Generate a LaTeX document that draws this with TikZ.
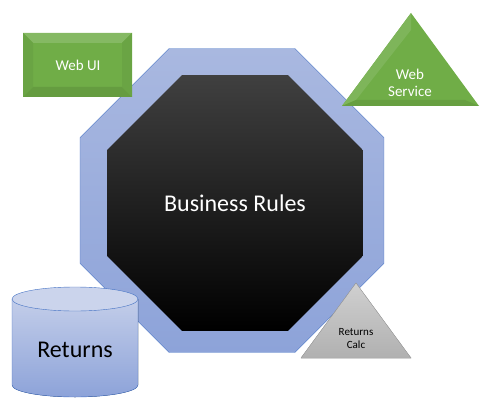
\documentclass[tikz,border=0pt]{standalone}
\usepackage{fontspec}
\setmainfont{Carlito}
\usetikzlibrary{shapes.geometric}
\definecolor{ringblue}{HTML}{4472C4}
\definecolor{ringfillA}{HTML}{A9B8E0}
\definecolor{ringfillB}{HTML}{8DA3D9}
\definecolor{webgreen}{HTML}{70AD47}
\definecolor{callgray}{HTML}{C4C4C4}

\begin{document}
\begin{tikzpicture}[x=1pt,y=1pt,
ringnode/.style={regular polygon, regular polygon sides=8, inner sep=0pt, draw=ringblue, top color=ringfillA, bottom color=ringfillB},
corenode/.style={regular polygon, regular polygon sides=8, inner sep=0pt, top color=black!75, bottom color=black, text=white, font=\fontsize{24}{28}\selectfont},
lbl/.style={align=center, inner sep=0pt},
]
\useasboundingbox (0,0) rectangle (492,-406);

%Nodes
\node[ringnode, minimum size=329pt] (ring) at (232,-200.5) {};
\node[corenode, minimum size=277pt] (core) at (235,-203) {Business Rules};

%Web UI box
\fill[webgreen] (23,-33) rectangle (132,-97);
\fill[webgreen!85!white] (23,-33) -- (132,-33) -- (122,-43) -- (33,-43) -- cycle;
\fill[webgreen!90!black] (23,-97) -- (132,-97) -- (122,-87) -- (33,-87) -- cycle;
\fill[webgreen!95!black] (23,-33) -- (33,-43) -- (33,-87) -- (23,-97) -- cycle;
\fill[webgreen!95!black] (132,-33) -- (122,-43) -- (122,-87) -- (132,-97) -- cycle;
\node[lbl, text=white, font=\fontsize{15}{18}\selectfont] (webui) at (78,-65) {Web UI};

%Web Service triangle
\fill[webgreen] (411,-13) -- (479,-106) -- (342,-106) -- cycle;
\fill[webgreen!90!white] (411,-13) -- (411,-30) -- (356,-100) -- (342,-106) -- cycle;
\fill[webgreen!92!black] (342,-106) -- (479,-106) -- (465,-100) -- (356,-100) -- cycle;
\node[lbl, text=white, font=\fontsize{15}{17}\selectfont] (websvc) at (410,-83) {Web\\Service};

%Returns store
\fill[top color=ringfillA!70!white, bottom color=ringfillB, draw=ringblue]
  (12,-299) -- (12,-385) arc[start angle=180, end angle=360, x radius=63, y radius=12]
  -- (138,-299) -- cycle;
\filldraw[fill=ringfillA!60!white, draw=ringblue] (75,-299) ellipse [x radius=63, y radius=12];
\node[lbl, font=\fontsize{24}{28}\selectfont] (returns) at (75,-350) {Returns};

%Returns Calc triangle
\filldraw[top color=callgray!80!white, bottom color=callgray!90!black, draw=black!35] (356,-283) -- (411,-358) -- (301,-358) -- cycle;
\node[lbl, font=\fontsize{11}{13}\selectfont] (calc) at (356,-339) {Returns\\Calc};

\end{tikzpicture}
\end{document}
